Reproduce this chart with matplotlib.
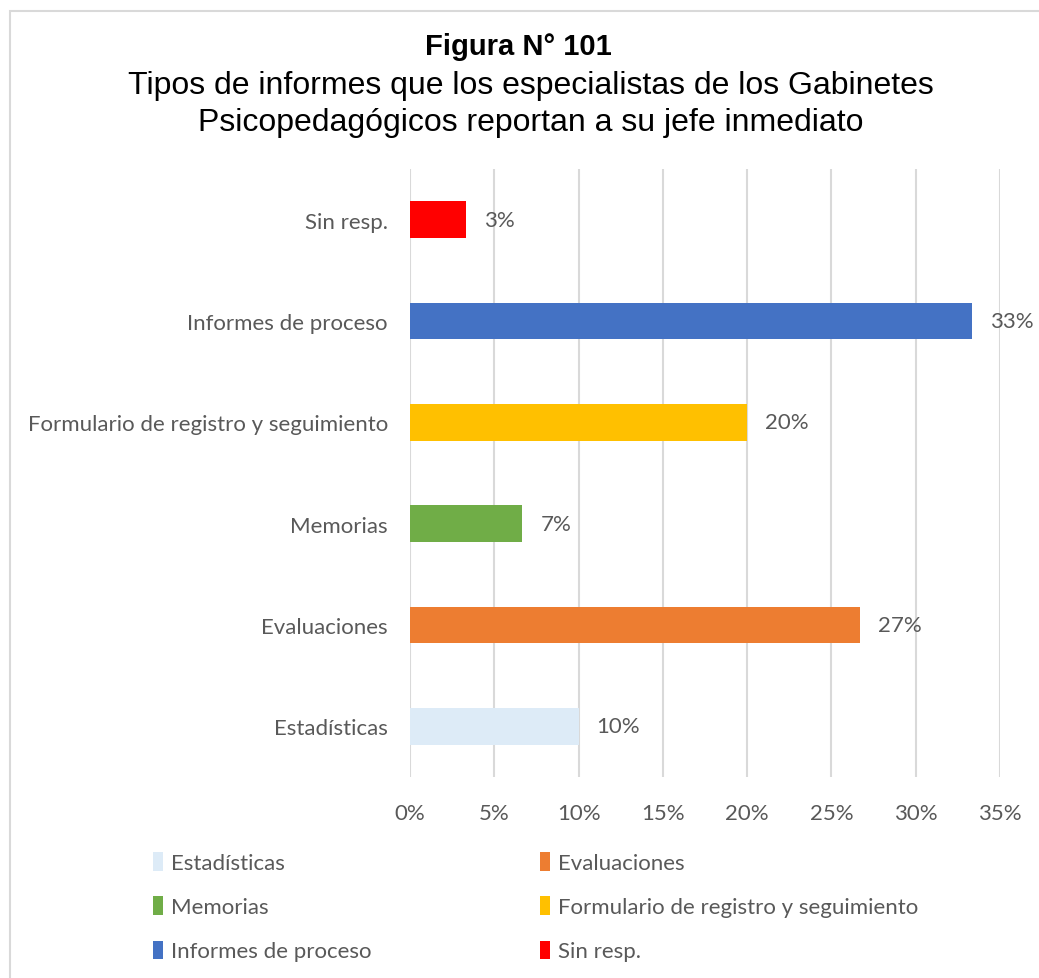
import matplotlib.pyplot as plt
from matplotlib.patches import Rectangle, Patch

categories = ["Estadísticas", "Evaluaciones", "Memorias",
              "Formulario de registro y seguimiento", "Informes de proceso", "Sin resp."]
values = [10.0, 26.67, 6.67, 20.0, 33.33, 3.33]
labels = ["10%", "27%", "7%", "20%", "33%", "3%"]
colors = ["#DDEBF7", "#ED7D31", "#70AD47", "#FFC000", "#4472C4", "#FF0000"]
xticks = [0, 5, 10, 15, 20, 25, 30, 35]

txt_gray = "#595959"
plt.rcParams['font.family'] = ['Lato', 'DejaVu Sans']

fig = plt.figure(figsize=(10.39, 9.79), dpi=100)
ax = fig.add_axes([0.3946, 0.2053, 0.5679, 0.6211])

ypos = list(range(len(categories)))
bars = ax.barh(ypos, values, height=0.36, color=colors, zorder=3)
for b, lab in zip(bars, labels):
    ax.annotate(lab, (b.get_width(), b.get_y() + b.get_height() / 2),
                xytext=(13, 0), textcoords='offset points',
                va='center', ha='left', fontsize=16, color=txt_gray, zorder=4)

ax.set_xlim(0, 35)
ax.set_ylim(-0.5, len(categories) - 0.5)
ax.set_xticks(xticks)
ax.set_xticklabels(["%d%%" % t for t in xticks])
ax.set_yticks(ypos)
ax.set_yticklabels(categories)
ax.tick_params(axis='both', length=0, labelsize=16, labelcolor=txt_gray)
ax.tick_params(axis='x', pad=19)
ax.tick_params(axis='y', pad=16)
ax.grid(axis='x', color='#D9D9D9', linewidth=1.5, zorder=0)
for s in ax.spines.values():
    s.set_visible(False)

# titles
fig.text(0.499, 0.952, "Figura N° 101", ha='center', va='center', fontsize=21,
         fontweight='bold', family='Liberation Sans')
fig.text(0.511, 0.912, "Tipos de informes que los especialistas de los Gabinetes",
         ha='center', va='center', fontsize=23, family='Liberation Sans')
fig.text(0.511, 0.874, "Psicopedagógicos reportan a su jefe inmediato",
         ha='center', va='center', fontsize=23, family='Liberation Sans')

# legend: column-major order so rows read Est/Eval, Mem/Form, Inf/Sin
order = [0, 2, 4, 1, 3, 5]
handles = [Patch(facecolor=colors[i], label=categories[i]) for i in order]
leg = fig.legend(handles=handles, ncol=2, loc='upper left',
                 bbox_to_anchor=(0.128, 0.149), frameon=False, fontsize=16,
                 handlelength=0.45, handleheight=0.9, handletextpad=0.35,
                 columnspacing=7.6, labelspacing=1.05)
for t in leg.get_texts():
    t.set_color(txt_gray)

# light frame around the chart
fig.patches.append(Rectangle((0.010, -0.01), 1.0, 0.998, transform=fig.transFigure,
                             fill=False, edgecolor='#D9D9D9', linewidth=1.5))

fig.savefig("out.png", dpi=100)
